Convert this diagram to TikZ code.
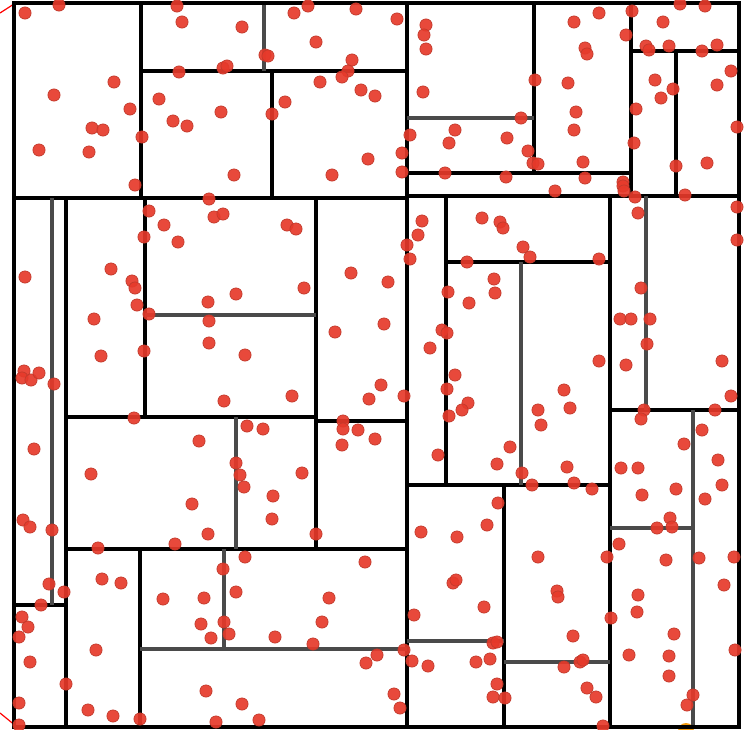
\documentclass[tikz,border=0pt]{standalone}
\usepackage{tikz}
\definecolor{PointRed}{HTML}{E6392A}
\definecolor{PointEdge}{HTML}{C23A2C}
\definecolor{CutGray}{HTML}{4A4A4A}
\definecolor{HitOrange}{HTML}{F39C12}

\begin{document}
\begin{tikzpicture}[x=1pt,y=-1pt,
      cut/.style={black,line width=3.2pt},
      subcut/.style={CutGray,line width=3.1pt},
      point/.style={fill=PointRed,draw=PointEdge,line width=0.7pt,fill opacity=0.92},
      stray/.style={red,line width=1.2pt}]
    \useasboundingbox (0,0) rectangle (750,729);
    % partial marks at the picture's edge
    \fill[HitOrange] (686,731) circle (8);
    \draw[stray] (0,13) -- (14,4);
    \draw[stray] (0,713) -- (16,726);
    % first levels of the split
    \draw[cut] (407,3) -- (407,727);
    \draw[cut] (14,198) -- (407,198);
    \draw[cut] (407,196) -- (739,196);
    \draw[cut] (141,3) -- (141,198);
    \draw[cut] (66,198) -- (66,727);
    \draw[cut] (631,3) -- (631,196);
    \draw[cut] (610,196) -- (610,727);
    \draw[cut] (141,71) -- (407,71);
    \draw[cut] (66,549) -- (407,549);
    \draw[cut] (407,173) -- (631,173);
    \draw[cut] (631,51) -- (739,51);
    \draw[cut] (407,485) -- (610,485);
    \draw[cut] (610,410) -- (739,410);
    \draw[cut] (14,605) -- (66,605);
    \draw[cut] (272,71) -- (272,198);
    \draw[cut] (316,198) -- (316,549);
    \draw[cut] (140,549) -- (140,727);
    \draw[cut] (534,3) -- (534,173);
    \draw[cut] (676,51) -- (676,196);
    \draw[cut] (446,196) -- (446,485);
    \draw[cut] (504,485) -- (504,727);
    \draw[cut] (66,417) -- (316,417);
    \draw[cut] (316,421) -- (407,421);
    \draw[cut] (446,262) -- (610,262);
    \draw[cut] (145,198) -- (145,417);
    % deeper levels
    \draw[subcut] (264,3) -- (264,71);
    \draw[subcut] (52,198) -- (52,605);
    \draw[subcut] (407,118) -- (534,118);
    \draw[subcut] (646,196) -- (646,410);
    \draw[subcut] (693,410) -- (693,727);
    \draw[subcut] (140,649) -- (407,649);
    \draw[subcut] (407,641) -- (504,641);
    \draw[subcut] (504,662) -- (610,662);
    \draw[subcut] (610,528) -- (693,528);
    \draw[subcut] (224,549) -- (224,649);
    \draw[subcut] (236,417) -- (236,549);
    \draw[subcut] (521,262) -- (521,485);
    \draw[subcut] (145,315) -- (316,315);
    \draw[cut] (14,3) rectangle (739,727);
    % sample points
    \foreach \px/\py in {25/13,59/5,114/82,54/95,130/109,92/128,103/130,142/137,39/150,89/152,135/185,
      177/6,182/22,242/27,179/72,223/68,227/66,159/99,173/121,187/126,221/112,234/175,
      294/13,308/6,356/9,397/19,316/42,265/55,268/56,352/60,348/71,342/77,320/82,361/90,375/96,285/102,272/114,368/159,332/175,402/153,402/172,
      426/25,424/35,426/49,423/92,410/135,455/130,449/143,445/173,
      599/13,574/22,632/11,680/4,705/6,663/22,626/35,646/46,649/50,669/46,702/51,717/45,585/48,587/54,535/80,568/83,655/80,673/89,661/98,717/85,731/71,636/109,576/112,574/130,521/118,507/138,528/151,533/163,538/164,583/162,634/143,737/127,676/166,707/163,506/177,585/178,623/182,
      209/199,149/211,214/217,223/214,164/225,144/237,178/242,25/277,111/269,132/281,135/288,236/294,208/302,137/305,149/314,94/319,209/321,209/343,144/351,101/356,245/355,
      287/225,296/229,304/288,351/273,388/282,335/332,384/324,422/221,418/235,407/245,410/259,482/218,500/222,503/228,467/262,494/279,495/293,448/292,469/303,442/330,447/333,430/348,
      555/191,623/186,624/191,635/197,638/213,685/195,737/207,737/240,523/247,530/257,599/259,641/288,620/319,631/319,650/319,647/344,599/361,626/365,722/361,
      24/371,22/378,31/380,39/373,54/384,34/449,224/401,134/418,247/426,199/441,236/463,240/475,244/487,91/474,192/504,208/534,23/520,30/527,52/530,98/548,175/544,
      292/396,263/429,302/473,273/496,272/519,316/534,381/385,369/399,404/396,343/421,343/429,358/430,375/439,342/445,455/375,447/389,468/403,462/410,449/416,438/455,497/464,498/503,421/532,457/537,487/525,
      564/390,538/410,570/408,541/425,510/447,522/473,567/467,532/485,574/483,592/489,731/396,644/410,641/419,715/410,702/430,684/444,718/460,621/468,638/468,722/485,676/489,642/495,705/499,670/518,672/527,657/528,619/544,
      49/584,64/592,41/605,22/617,28/627,19/637,30/662,66/684,19/703,19/725,102/579,121/583,96/650,88/710,113/716,140/719,223/569,245/557,163/599,204/598,236/592,201/624,224/622,211/638,229/634,206/691,242/704,216/722,
      365/562,329/598,322/622,275/637,313/644,377/655,366/663,404/650,394/694,400/708,259/720,453/583,456/580,484/607,414/615,493/643,497/642,412/661,428/666,476/662,490/659,497/684,493/697,
      538/557,607/557,666/560,699/558,734/557,724/585,557/591,558/597,638/595,637/612,611/618,674/634,573/636,629/655,669/656,735/650,580/662,583/660,564/667,669/676,505/698,587/688,596/697,693/695,687/705,603/726}
      \filldraw[point] (\px,\py) circle (6.1);
  \end{tikzpicture}
\end{document}
